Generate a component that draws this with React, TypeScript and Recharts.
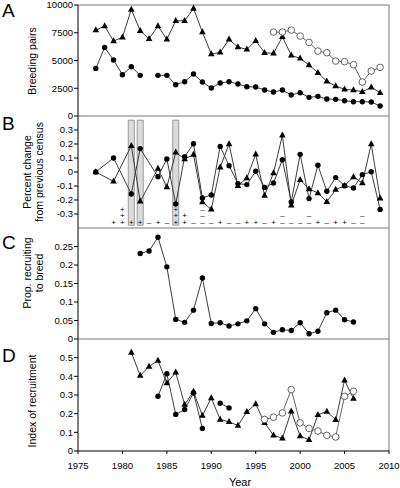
import React from 'react'
import { ComposedChart, Line, XAxis, YAxis, ReferenceArea, ReferenceLine } from 'recharts'

const yearTicks = [1975, 1980, 1985, 1990, 1995, 2000, 2005, 2010]

// A - breeding pairs
const pairYears = [1977, 1978, 1979, 1980, 1981, 1982, 1983, 1984, 1985, 1986, 1987, 1988, 1989, 1990, 1991, 1992, 1993, 1994, 1995, 1996, 1997, 1998, 1999, 2000, 2001, 2002, 2003, 2004, 2005, 2006, 2007, 2008, 2009]
const pairsTri = [7740, 8100, 6750, 7080, 9600, 7680, 6960, 8100, 6900, 8580, 8580, 9690, 7560, 5580, 5730, 6900, 6210, 6000, 6780, 5700, 5640, 7140, 5460, 5190, 4590, 3900, 3120, 2700, 2400, 2340, 2190, 2580, 2100]
const pairsDot = [4290, 6180, 5040, 3720, 4440, 3660, null, 3660, 3660, 2820, 3090, 3780, 3060, 2520, 2970, 3090, 2880, 2640, 2610, 2340, 2160, 2340, 1890, 2100, 1680, 1770, 1530, 1500, 1380, 1290, 1290, 1260, 900]
const pairOpenYears = [1997, 1998, 1999, 2000, 2001, 2002, 2003, 2004, 2005, 2006, 2007, 2008, 2009]
const pairsOpen = [7560, 7560, 7740, 7200, 6630, 5850, 5700, 4950, 4890, 4620, 3060, 4050, 4380]

// B - percent change from previous census
const changeYears = [1977, 1979, 1981, 1982, 1984, 1985, 1986, 1987, 1988, 1989, 1990, 1991, 1992, 1993, 1994, 1995, 1996, 1997, 1998, 1999, 2000, 2001, 2002, 2003, 2004, 2005, 2006, 2007, 2008, 2009]
const changeDot = [0, 0.1, -0.157, 0.167, -0.034, 0.093, -0.229, 0.109, 0.202, -0.186, -0.164, 0.183, 0.045, -0.083, -0.09, 0.005, -0.11, -0.079, 0.088, -0.214, 0.126, -0.19, 0.048, -0.138, -0.04, -0.098, -0.114, -0.019, 0.002, -0.267]
const changeTri = [0, -0.067, 0.188, -0.21, 0.024, -0.107, 0.14, 0.093, 0.124, -0.214, -0.267, 0.033, 0.2, -0.098, -0.043, 0.126, -0.169, -0.007, 0.262, -0.238, -0.055, -0.121, -0.15, -0.212, -0.126, -0.098, -0.036, -0.079, 0.2, -0.188]
const shadedYears = [1981, 1982, 1986]
const signsTop: [number, string][] = [[1980, '+'], [1986, '+'], [1989, '–']]
const signsMid: [number, string][] = [[1980, '+'], [1986, '+'], [1987, '+'], [1989, '–'], [1998, '–'], [2001, '–'], [2007, '–']]
const signsBottom: [number, string][] = [
  [1979, '+'], [1980, '+'], [1981, '+'], [1982, '+'], [1983, '–'], [1984, '+'], [1985, '–'], [1986, '+'], [1987, '+'], [1988, '–'],
  [1989, '–'], [1990, '–'], [1991, '+'], [1992, '–'], [1993, '–'], [1994, '+'], [1995, '+'], [1996, '–'], [1997, '+'], [1998, '–'],
  [1999, '–'], [2000, '–'], [2001, '–'], [2002, '+'], [2003, '–'], [2004, '+'], [2005, '+'], [2006, '–'], [2007, '–'],
]

// C - proportion recruiting to breed
const recruitYears = [1982, 1983, 1984, 1985, 1986, 1987, 1988, 1989, 1990, 1991, 1992, 1993, 1994, 1995, 1996, 1997, 1998, 1999, 2000, 2001, 2002, 2003, 2004, 2005, 2006]
const recruit = [0.231, 0.238, 0.275, 0.195, 0.053, 0.045, 0.078, 0.165, 0.042, 0.044, 0.035, 0.041, 0.049, 0.082, 0.041, 0.018, 0.025, 0.023, 0.044, 0.014, 0.021, 0.071, 0.078, 0.052, 0.046]

// D - index of recruitment
const indexTriYears = [1981, 1982, 1983, 1984, 1985, 1986, 1987, 1988, 1989, 1990, 1991, 1992, 1993, 1994, 1995, 1996, 1997, 1998, 1999, 2000, 2001, 2002, 2003, 2004, 2005, 2006]
const indexTri = [0.528, 0.404, 0.453, 0.484, 0.364, 0.421, 0.249, 0.318, 0.19, 0.284, 0.169, 0.156, 0.137, 0.21, 0.251, 0.151, 0.084, 0.068, 0.213, 0.08, 0.06, 0.194, 0.212, 0.167, 0.379, 0.281]
const indexDotYears = [1984, 1985, 1986, 1987, 1988, 1989, 1990, 1991, 1992]
const indexDot = [0.293, 0.414, 0.196, 0.222, 0.311, 0.121, null, 0.256, 0.231]
const indexOpenYears = [1996, 1997, 1998, 1999, 2000, 2001, 2002, 2003, 2004, 2005, 2006]
const indexOpen = [0.169, 0.181, 0.204, 0.329, 0.151, 0.121, 0.107, 0.084, 0.075, 0.293, 0.32]

const FONT = '"Liberation Sans", Arial, sans-serif'
const LINE = '#3c3c3c'

const pts = (years: number[], vals: (number | null)[]) => years.map((year, i) => ({ year, v: vals[i] }))
const signPts = (list: [number, string][], v: number) => list.map(([year, s]) => ({ year, v, s }))

const bad = (p: any) => p.cx == null || p.cy == null || p.value == null || isNaN(p.cy)

function triDot(p: any) {
  if (bad(p)) return <g key={`t${p.index}`} />
  const { cx, cy } = p
  return <path key={`t${p.index}`} d={`M${cx},${cy - 3.8}L${cx + 3.3},${cy + 2.2}L${cx - 3.3},${cy + 2.2}Z`} fill="#000" />
}

function fillDot(p: any) {
  if (bad(p)) return <g key={`c${p.index}`} />
  return <circle key={`c${p.index}`} cx={p.cx} cy={p.cy} r={2.7} fill="#000" />
}

function openDot(p: any) {
  if (bad(p)) return <g key={`o${p.index}`} />
  return <circle key={`o${p.index}`} cx={p.cx} cy={p.cy} r={3.3} fill="#fff" stroke="#555" strokeWidth={0.9} />
}

function signDot(p: any) {
  if (bad(p)) return <g key={`s${p.index}`} />
  return (
    <text key={`s${p.index}`} x={p.cx} y={p.cy} textAnchor="middle" dominantBaseline="central" fontSize={8} fontFamily={FONT} fill="#000">
      {p.payload.s}
    </text>
  )
}

type PanelProps = {
  top: number
  plotH: number
  domain: [number, number]
  ticks: number[]
  years?: boolean
  children: React.ReactNode
}

function Panel({ top, plotH, domain, ticks, years, children }: PanelProps) {
  const bottomPad = years ? 30 : 8
  return (
    <div style={{ position: 'absolute', left: 0, top: top - 8 }}>
      <ComposedChart width={400} height={plotH + 8 + bottomPad} margin={{ top: 8, right: 11, bottom: years ? 0 : 8, left: 0 }}>
        <XAxis
          type="number"
          dataKey="year"
          domain={[1975, 2010]}
          ticks={yearTicks}
          interval={0}
          allowDataOverflow
          height={years ? 30 : 0}
          tickSize={3}
          tickMargin={8}
          axisLine={{ stroke: '#000' }}
          tickLine={{ stroke: '#000' }}
          tick={{ fontSize: 9.5, fill: '#000', fontFamily: FONT }}
          tickFormatter={(v) => (years ? String(v) : '')}
        />
        <YAxis
          type="number"
          domain={domain}
          ticks={ticks}
          interval={0}
          allowDataOverflow
          width={78}
          tickSize={4}
          tickMargin={1}
          axisLine={{ stroke: '#000' }}
          tickLine={{ stroke: '#000' }}
          tick={{ fontSize: 9.5, fill: '#000', fontFamily: FONT }}
        />
        <ReferenceLine y={domain[1]} stroke="#777" ifOverflow="visible" />
        <ReferenceLine x={2010} stroke="#777" ifOverflow="visible" />
        {children}
      </ComposedChart>
    </div>
  )
}

const lineProps = { type: 'linear' as const, dataKey: 'v', stroke: LINE, strokeWidth: 1, isAnimationActive: false, activeDot: false }

const rotated = (x: number, y: number): React.CSSProperties => ({
  position: 'absolute',
  left: x,
  top: y,
  transform: 'translate(-50%, -50%) rotate(-90deg)',
  whiteSpace: 'nowrap',
  textAlign: 'center',
  fontSize: 10.5,
  lineHeight: '12px',
})

const letter = (y: number): React.CSSProperties => ({ position: 'absolute', left: 2, top: y, fontSize: 19, lineHeight: '19px' })

export default function App() {
  return (
    <div style={{ position: 'absolute', left: 0, top: 0, width: 400, height: 488, background: '#fff', fontFamily: FONT, color: '#000', overflow: 'hidden' }}>
      <Panel top={5} plotH={111} domain={[0, 10000]} ticks={[0, 2500, 5000, 7500, 10000]}>
        <Line {...lineProps} data={pts(pairYears, pairsTri)} dot={triDot} />
        <Line {...lineProps} data={pts(pairYears, pairsDot)} dot={fillDot} />
        <Line {...lineProps} data={pts(pairOpenYears, pairsOpen)} stroke="#666" dot={openDot} />
      </Panel>

      <Panel top={116} plotH={112} domain={[-0.4, 0.4]} ticks={[-0.3, -0.2, -0.1, 0, 0.1, 0.2, 0.3]}>
        <Line {...lineProps} data={pts(changeYears, changeTri)} dot={triDot} />
        <Line {...lineProps} data={pts(changeYears, changeDot)} dot={fillDot} />
        {shadedYears.map((yr) => (
          <ReferenceArea key={yr} x1={yr - 0.34} x2={yr + 0.34} y1={-0.38} y2={0.37} fill="#d2d2d2" fillOpacity={0.8} stroke="#9a9a9a" ifOverflow="visible" />
        ))}
        <Line {...lineProps} data={signPts(signsTop, -0.266)} stroke="none" dot={signDot} />
        <Line {...lineProps} data={signPts(signsMid, -0.312)} stroke="none" dot={signDot} />
        <Line {...lineProps} data={signPts(signsBottom, -0.358)} stroke="none" dot={signDot} />
      </Panel>

      <Panel top={228} plotH={111} domain={[0, 0.3]} ticks={[0, 0.05, 0.1, 0.15, 0.2, 0.25]}>
        <Line {...lineProps} data={pts(recruitYears, recruit)} dot={fillDot} />
      </Panel>

      <Panel top={339} plotH={112} domain={[0, 0.6]} ticks={[0, 0.1, 0.2, 0.3, 0.4, 0.5]} years>
        <Line {...lineProps} data={pts(indexTriYears, indexTri)} dot={triDot} />
        <Line {...lineProps} data={pts(indexDotYears, indexDot)} dot={fillDot} />
        <Line {...lineProps} data={pts(indexOpenYears, indexOpen)} stroke="#666" dot={openDot} />
      </Panel>

      <div style={letter(1)}>A</div>
      <div style={letter(114)}>B</div>
      <div style={letter(233)}>C</div>
      <div style={letter(346)}>D</div>

      <div style={rotated(32, 61)}>Breeding pairs</div>
      <div style={rotated(32.5, 172)}>Percent change<br />from previous census</div>
      <div style={rotated(32.5, 273)}>Prop. recruiting<br />to breed</div>
      <div style={rotated(32, 401)}>Index of recruitment</div>

      <div style={{ position: 'absolute', left: 240, top: 476, transform: 'translateX(-50%)', fontSize: 11, lineHeight: '12px' }}>Year</div>
    </div>
  )
}
